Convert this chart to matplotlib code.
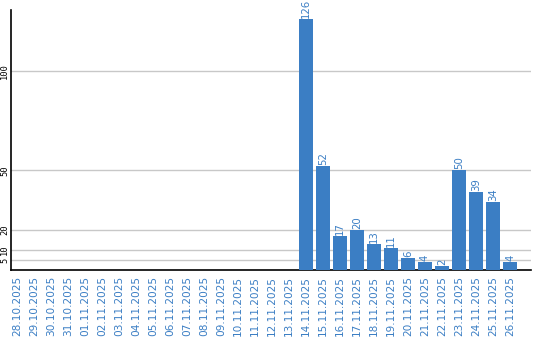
import matplotlib
matplotlib.use("Agg")
import matplotlib.pyplot as plt

# daily counts, 28.10.2025 .. 26.11.2025
dates = [
    "28.10.2025", "29.10.2025", "30.10.2025", "31.10.2025",
    "01.11.2025", "02.11.2025", "03.11.2025", "04.11.2025", "05.11.2025",
    "06.11.2025", "07.11.2025", "08.11.2025", "09.11.2025", "10.11.2025",
    "11.11.2025", "12.11.2025", "13.11.2025", "14.11.2025", "15.11.2025",
    "16.11.2025", "17.11.2025", "18.11.2025", "19.11.2025", "20.11.2025",
    "21.11.2025", "22.11.2025", "23.11.2025", "24.11.2025", "25.11.2025",
    "26.11.2025",
]
counts = [0] * 17 + [126, 52, 17, 20, 13, 11, 6, 4, 2, 50, 39, 34, 4]
y_ticks = [5, 10, 20, 50, 100]

BLUE = "#3b7ec4"

fig = plt.figure(figsize=(5.4, 3.4), dpi=100)
ax = fig.add_axes([11 / 540, 1 - 270 / 340, 520 / 540, 260 / 340])

x = list(range(len(dates)))
ax.bar(x, counts, width=0.82, color=BLUE, zorder=3)

for xi, v in zip(x, counts):
    if v > 0:
        ax.annotate(str(v), (xi, v), xytext=(0, 0.8), textcoords="offset points",
                    rotation=90, ha="center", va="bottom", color=BLUE, fontsize=7.3)

ax.set_xlim(-0.35, 30.23)
ax.set_ylim(0, 130.6)

ax.set_yticks(y_ticks)
ax.set_yticklabels([str(t) for t in y_ticks], rotation=90, va="center",
                   fontsize=6.3, family="DejaVu Sans Mono")
ax.grid(axis="y", color="#c8c8c8", linewidth=1, zorder=0)

ax.set_xticks(x)
ax.set_xticklabels(dates, rotation=90, color=BLUE, fontsize=7.6)
ax.tick_params(axis="x", length=0, pad=4.5)
ax.tick_params(axis="y", length=0, pad=1.5)

for side in ("top", "right"):
    ax.spines[side].set_visible(False)
for side in ("left", "bottom"):
    ax.spines[side].set_color("black")
    ax.spines[side].set_linewidth(1.2)

fig.savefig("out.png", dpi=100)
